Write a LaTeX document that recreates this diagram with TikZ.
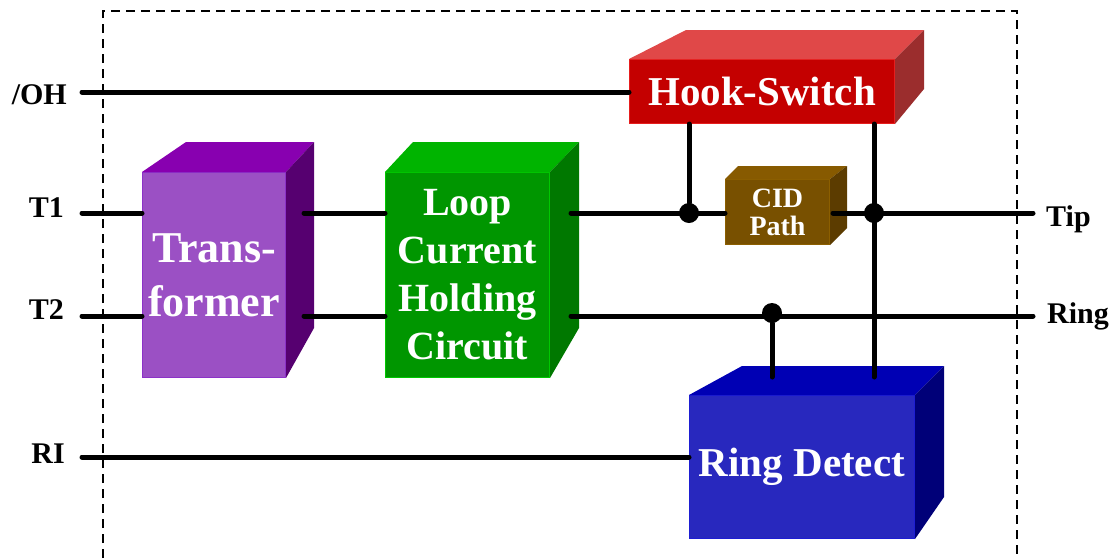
\documentclass[tikz,border=0pt]{standalone}
\usepackage{fontspec}
\setmainfont{Liberation Serif}
\usetikzlibrary{positioning}
\definecolor{transfront}{RGB}{155,80,196}
\definecolor{transtop}{RGB}{136,0,176}
\definecolor{transside}{RGB}{86,0,112}
\definecolor{transline}{RGB}{140,50,200}
\definecolor{loopfront}{RGB}{0,150,0}
\definecolor{looptop}{RGB}{0,180,0}
\definecolor{loopside}{RGB}{0,120,0}
\definecolor{loopline}{RGB}{0,200,0}
\definecolor{hookfront}{RGB}{196,0,0}
\definecolor{hooktop}{RGB}{224,72,72}
\definecolor{hookside}{RGB}{155,45,45}
\definecolor{hookline}{RGB}{230,30,30}
\definecolor{cidfront}{RGB}{120,80,0}
\definecolor{cidtop}{RGB}{135,90,0}
\definecolor{cidside}{RGB}{92,60,0}
\definecolor{cidline}{RGB}{140,95,0}
\definecolor{ringfront}{RGB}{40,40,190}
\definecolor{ringtop}{RGB}{0,0,180}
\definecolor{ringside}{RGB}{0,0,120}
\definecolor{ringline}{RGB}{30,30,210}
\tikzstyle{block} = [inner sep=0pt, anchor=north west, text=white, align=center, line width=1pt]
\tikzstyle{wire} = [draw, line width=5pt, line cap=round]
\tikzstyle{pin} = [inner sep=0pt, font=\bfseries\fontsize{30}{30}\selectfont]
\tikzstyle{dot} = [circle, fill=black, inner sep=0pt, minimum size=20pt]
\tikzstyle{frame} = [draw, line width=1.5pt, dash pattern=on 9pt off 6pt]
\newcommand{\block}[7]{node (b#1) [block, fill=#2front, draw=#2line, minimum width=#3pt, minimum height=#4pt, font=\bfseries\fontsize{#5}{#6}\selectfont] {#7}}
\newcommand{\cube}[6]{%
% Top face
\path[fill=#2top] (b#1.north west) -- ++(#3,-#5) -- ([shift={(#4,-#5)}]b#1.north east) -- (b#1.north east) -- cycle;
% Side face
\path[fill=#2side] (b#1.north east) -- ++(#4,-#5) -- ([shift={(#4,-#6)}]b#1.south east) -- (b#1.south east) -- cycle;}

\begin{document}
\begin{tikzpicture}[x=1pt,y=-1pt]
\useasboundingbox (0,0) rectangle (1113,558);
\path[frame] (103,558) -- (103,11) -- (1017,11) -- (1017,558);

\path (142,172) \block{Trans}{trans}{143}{205}{44}{54}{Trans-\\former};
\cube{Trans}{trans}{44}{28}{30}{50}
\path (385,172) \block{Loop}{loop}{164}{205}{40}{48}{Loop\\Current\\Holding\\Circuit};
\cube{Loop}{loop}{28}{29}{30}{50}
\path (629,59) \block{Hook}{hook}{265}{64}{41}{48}{Hook-Switch};
\cube{Hook}{hook}{57}{29}{29}{35}
\path (725,179) \block{CID}{cid}{104}{65}{28}{28}{CID\\Path};
\cube{CID}{cid}{13}{17}{13}{17}
\path (689,395) \block{Ring}{ring}{225}{143}{41}{48}{Ring Detect};
\cube{Ring}{ring}{53}{29}{29}{42}

\coordinate (pOH) at (82,92);
\coordinate (pT1) at (82,213);
\coordinate (pT2) at (82,316);
\coordinate (pRI) at (82,457);
\coordinate (pTip) at (1033,213);
\coordinate (pRing) at (1033,316);
\coordinate (rTop) at ([yshift=18pt]bRing.north);
\node[pin, anchor=base east] (lOH) at (67,104) {/OH};
\node[pin, anchor=base east] (lT1) at (64,217) {T1};
\node[pin, anchor=base east] (lT2) at (64,319) {T2};
\node[pin, anchor=base east] (lRI) at (65,463) {RI};
\node[pin, anchor=base west] (lTip) at (1046,226) {Tip};
\node[pin, anchor=base west] (lRing) at (1047,323) {Ring};

\path[wire] (pOH) -- (bHook.west |- pOH);
\path[wire] (pT1) -- (bTrans.west |- pT1);
\path[wire] (pT2) -- (bTrans.west |- pT2);
\path[wire] ([xshift=18pt]bTrans.east |- pT1) -- (bLoop.west |- pT1);
\path[wire] ([xshift=18pt]bTrans.east |- pT2) -- (bLoop.west |- pT2);
\path[wire] ([xshift=21pt]bLoop.east |- pT1) -- (bCID.west |- pT1);
\path[wire] ([xshift=21pt]bLoop.east |- pT2) -- (pRing);
\path[wire] ([xshift=3pt]bCID.east |- pT1) -- (pTip);
\path[wire] (pRI) -- (bRing.west |- pRI);

\node[dot] (j1) at (689,213) {};
\node[dot] (j2) at (874,213) {};
\node[dot] (j3) at (772,313) {};
\path[wire] (j1 |- bHook.south) -- (j1);
\path[wire] (j2 |- bHook.south) -- (j2 |- rTop);
\path[wire] (j3) -- (j3 |- rTop);
\end{tikzpicture}
\end{document}
